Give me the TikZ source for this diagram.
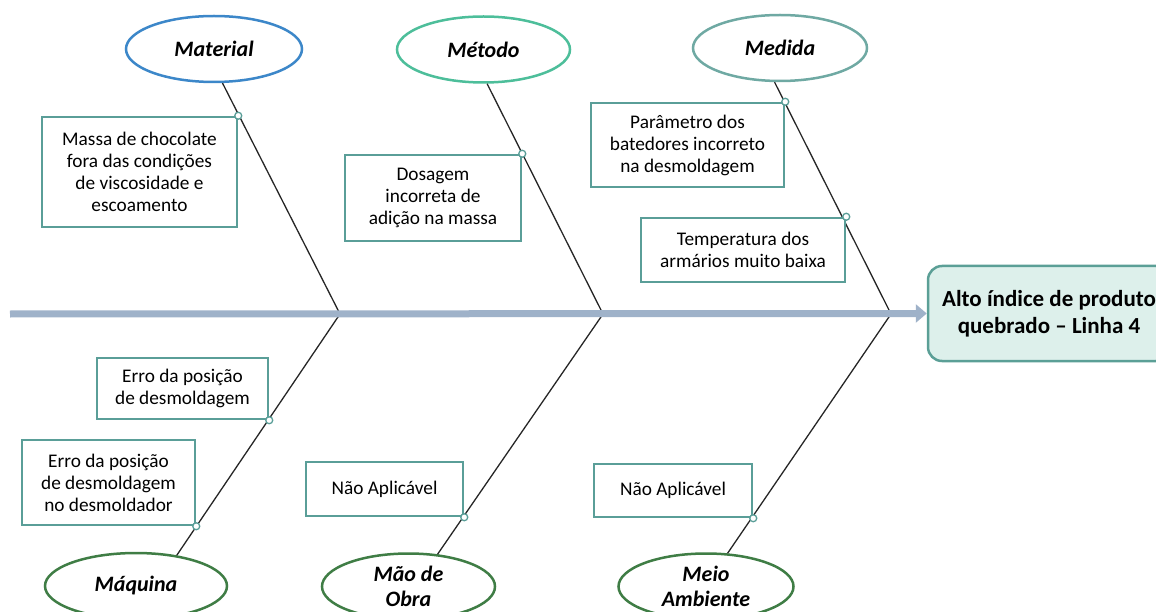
\documentclass[tikz,border=0pt]{standalone}
\usepackage{fontspec}
\setmainfont{Carlito}
\usetikzlibrary{arrows.meta,shapes.geometric}
\definecolor{spinec}{HTML}{9FB2C9}
\definecolor{boxc}{HTML}{5A9E98}
\definecolor{matc}{HTML}{3C87C9}
\definecolor{metc}{HTML}{4DBE9A}
\definecolor{medc}{HTML}{6FA9A3}
\definecolor{lowc}{HTML}{3F7D45}
\definecolor{efffill}{HTML}{DDF0EB}
\definecolor{effdraw}{HTML}{5B9F96}
\begin{document}
\begin{tikzpicture}[x=1pt,y=-1pt,
  cause/.style={draw=boxc, line width=2.5pt, fill=white, align=center, inner sep=0pt,
    font=\fontsize{19.3}{22}\selectfont},
  cat/.style={ellipse, draw, line width=2.5pt, fill=white, inner sep=0pt, align=center,
    minimum height=66pt, font=\fontsize{22}{25}\selectfont\bfseries\itshape},
  bone/.style={line width=1.3pt, draw=black!85},
  dotc/.style={circle, draw=boxc, fill=white, line width=1.3pt, minimum size=7pt, inner sep=0pt},
  spine/.style={draw=spinec, line width=7pt, -{Triangle[length=11pt,width=18pt]}}
]
\useasboundingbox (0,0) rectangle (1156,612);
\clip (0,0) rectangle (1156,612);

% category ellipses
\node[cat, draw=matc, minimum width=176pt] (mat) at (214,49) {Material};
\node[cat, draw=metc, minimum width=173pt] (met) at (483.5,49.5) {Método};
\node[cat, draw=medc, minimum width=174pt] (med) at (780,48) {Medida};
\node[cat, draw=lowc, minimum width=182pt] (mq) at (136,586) {Máquina};
\node[cat, draw=lowc, minimum width=173pt] (mo) at (408.5,586.5) {Mão de\\Obra};
\node[cat, draw=lowc, minimum width=175pt] (ma) at (706,586.5) {Meio\\Ambiente};

% junctions on the spine
\coordinate (j1) at (340,314);
\coordinate (j2) at (603,314);
\coordinate (j3) at (891,314);
\coordinate (s0) at (10,314);

% bones
\draw[bone] (mat.-76) -- (j1);
\draw[bone] (met.-84) -- (j2);
\draw[bone] (med.-99) -- (j3);
\draw[bone] (j1) -- (mq.37);
\draw[bone] (j2) -- (mo.48);
\draw[bone] (j3) -- (ma.57);

% effect
\node[draw=effdraw, fill=efffill, line width=2.5pt, rounded corners=14pt,
  minimum width=242pt, minimum height=95pt, inner sep=0pt, align=center,
  font=\fontsize{23}{27}\selectfont\bfseries] (eff) at (1049,313.5)
  {Alto índice de produto\\quebrado -- Linha 4};

% spine
\draw[spine] (s0) -- (eff.west);

% causes
\node[cause, minimum width=195pt, minimum height=110pt] (c1) at (139.5,172)
  {Massa de chocolate\\fora das condições\\de viscosidade e\\escoamento};
\node[cause, minimum width=176pt, minimum height=86pt] (c2) at (433,198)
  {Dosagem\\incorreta de\\adição na massa};
\node[cause, minimum width=193pt, minimum height=84pt] (c3) at (687.5,145)
  {Parâmetro dos\\batedores incorreto\\na desmoldagem};
\node[cause, minimum width=204pt, minimum height=64pt] (c4) at (743,250)
  {Temperatura dos\\armários muito baixa};
\node[cause, minimum width=171pt, minimum height=61pt] (c5) at (182.5,388.5)
  {Erro da posição\\de desmoldagem};
\node[cause, minimum width=173pt, minimum height=85pt] (c6) at (108.5,482.5)
  {Erro da posição\\de desmoldagem\\no desmoldador};
\node[cause, minimum width=157pt, minimum height=54pt] (c7) at (384.5,489)
  {Não Aplicável};
\node[cause, minimum width=158pt, minimum height=53pt] (c8) at (673,490.5)
  {Não Aplicável};

% attachment dots
\node[dotc] at (c1.north east) {};
\node[dotc] at (c2.north east) {};
\node[dotc] at (c3.north east) {};
\node[dotc] at (c4.north east) {};
\node[dotc] at (c5.south east) {};
\node[dotc] at (c6.south east) {};
\node[dotc] at (c7.south east) {};
\node[dotc] at (c8.south east) {};
\end{tikzpicture}
\end{document}
